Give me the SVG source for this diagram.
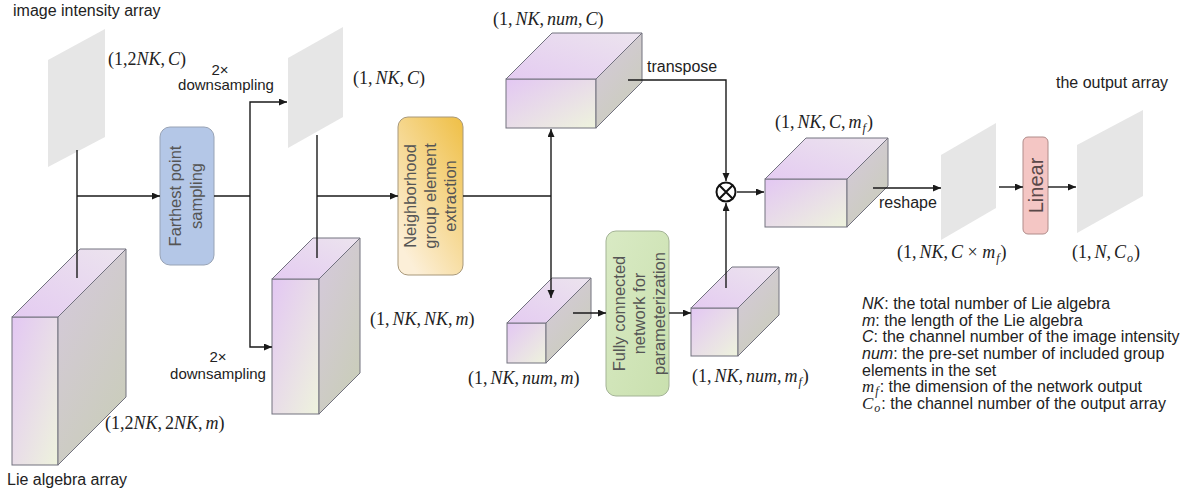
<svg xmlns="http://www.w3.org/2000/svg" width="1202" height="497" viewBox="0 0 1202 497">
<defs>
<style>
.t{font-family:"Liberation Sans",Arial,sans-serif;font-size:16px;fill:#222}
.s{font-family:"Liberation Sans",Arial,sans-serif;font-size:15px;fill:#222;text-anchor:middle}
.m{font-family:"Liberation Serif","Times New Roman",serif;font-size:18px;fill:#222}
.i{font-style:italic}
.sub{font-size:12px}
.ms{font-family:"Liberation Serif","Times New Roman",serif}
.rot{font-family:"Liberation Sans",Arial,sans-serif;font-size:16.5px;fill:#555;text-anchor:middle}
.plane{fill:#e6e6e6}
.front{fill:url(#gFront);stroke:#72727f;stroke-width:1}
.top{fill:url(#gTop);stroke:#72727f;stroke-width:1}
.right{fill:url(#gRight);stroke:#72727f;stroke-width:1}
.ln{fill:none;stroke:#1a1a1a;stroke-width:1.4}
.arr{marker-end:url(#ah)}
</style>
<linearGradient id="gFront" x1="0" y1="0" x2="1" y2="1">
<stop offset="0" stop-color="#e3c7f3"/><stop offset="1" stop-color="#eef3dd"/>
</linearGradient>
<linearGradient id="gTop" x1="0" y1="1" x2="1" y2="0">
<stop offset="0" stop-color="#e4cbf1"/><stop offset="1" stop-color="#ece4ee"/>
</linearGradient>
<linearGradient id="gRight" x1="0" y1="0" x2="0.6" y2="1">
<stop offset="0" stop-color="#d6c9de"/><stop offset="1" stop-color="#cacdbb"/>
</linearGradient>
<linearGradient id="gOrange" x1="1" y1="0" x2="0.3" y2="1">
<stop offset="0" stop-color="#efbf45"/><stop offset="1" stop-color="#fcefd8"/>
</linearGradient>
<linearGradient id="gGreen" x1="0" y1="0" x2="1" y2="1">
<stop offset="0" stop-color="#d9eac4"/><stop offset="1" stop-color="#c9e0ae"/>
</linearGradient>
<marker id="ah" markerUnits="userSpaceOnUse" markerWidth="9" markerHeight="8" refX="8" refY="3.5" orient="auto">
<path d="M0,0 L8,3.5 L0,7 z" fill="#1a1a1a"/>
</marker>
</defs>
<rect width="1202" height="497" fill="#fff"/>

<g id="image-intensity-array">
<polygon class="plane" points="48,60 105,29 105,137 48,167"/>
<text class="t" x="13" y="16">image intensity array</text>
<text class="m" x="108" y="65">(1,2<tspan class="i">NK</tspan>,<tspan class="i" dx="3">C</tspan>)</text>
</g>

<g id="lie-algebra-array">
<rect class="front" x="12" y="317" width="46" height="148"/>
<polygon class="top" points="12,317 80,249 126,249 58,317"/>
<polygon class="right" points="58,317 126,249 126,397 58,465"/>
<text class="t" x="7" y="485">Lie algebra array</text>
<text class="m" x="105" y="429">(1,2<tspan class="i">NK</tspan>,<tspan dx="3">2</tspan><tspan class="i">NK</tspan>,<tspan class="i" dx="3">m</tspan>)</text>
</g>

<g id="farthest-point-sampling">
<rect x="160" y="127" width="54" height="138" rx="10" fill="#b4c7e7" stroke="#98a3b5" stroke-width="1"/>
<text class="rot" transform="translate(187,196) rotate(-90)"><tspan x="0" y="-6">Farthest point</tspan><tspan x="0" y="15">sampling</tspan></text>
</g>

<g id="intensity-nk">
<polygon class="plane" points="288,58 343,27 343,117 288,148"/>
<text class="m" x="353" y="84">(1,<tspan class="i" dx="3">NK</tspan>,<tspan class="i" dx="3">C</tspan>)</text>
</g>

<g id="lie-nk">
<rect class="front" x="272" y="279" width="47" height="135"/>
<polygon class="top" points="272,279 313,238 360,238 319,279"/>
<polygon class="right" points="319,279 360,238 360,373 319,414"/>
<text class="m" x="370" y="325">(1,<tspan class="i" dx="3">NK</tspan>,<tspan class="i" dx="3">NK</tspan>,<tspan class="i" dx="3">m</tspan>)</text>
</g>

<g id="neighborhood-extraction">
<rect x="398" y="117" width="65" height="158" rx="10" fill="url(#gOrange)" stroke="#a8987a" stroke-width="1"/>
<text class="rot" transform="translate(430.5,196) rotate(-90)"><tspan x="0" y="-15">Neighborhood</tspan><tspan x="0" y="5">group element</tspan><tspan x="0" y="25">extraction</tspan></text>
</g>

<g id="feature-num-c">
<rect class="front" x="506" y="79" width="90" height="49"/>
<polygon class="top" points="506,79 552,33 642,33 596,79"/>
<polygon class="right" points="596,79 642,33 642,82 596,128"/>
<text class="m" x="493" y="25">(1,<tspan class="i" dx="3">NK</tspan>,<tspan class="i" dx="3">num</tspan>,<tspan class="i" dx="3">C</tspan>)</text>
</g>

<g id="lie-num-m">
<rect class="front" x="507" y="323" width="39" height="40"/>
<polygon class="top" points="507,323 552,278 591,278 546,323"/>
<polygon class="right" points="546,323 591,278 591,318 546,363"/>
<text class="m" x="468" y="384">(1,<tspan class="i" dx="3">NK</tspan>,<tspan class="i" dx="3">num</tspan>,<tspan class="i" dx="3">m</tspan>)</text>
</g>

<g id="fully-connected">
<rect x="606" y="231" width="63" height="165" rx="10" fill="url(#gGreen)" stroke="#a3b395" stroke-width="1"/>
<text class="rot" transform="translate(637.5,313.5) rotate(-90)"><tspan x="0" y="-13">Fully connected</tspan><tspan x="0" y="7">network for</tspan><tspan x="0" y="27">parameterization</tspan></text>
</g>

<g id="param-num-mf">
<rect class="front" x="691" y="308" width="47" height="48"/>
<polygon class="top" points="691,308 732,267 779,267 738,308"/>
<polygon class="right" points="738,308 779,267 779,315 738,356"/>
<text class="m" x="692" y="382">(1,<tspan class="i" dx="3">NK</tspan>,<tspan class="i" dx="3">num</tspan>,<tspan class="i" dx="3">m</tspan><tspan class="i sub" dx="1" dy="4">f</tspan><tspan dx="1" dy="-4">)</tspan></text>
</g>

<g id="product-otimes">
<circle cx="726" cy="192" r="9.5" fill="#fff" stroke="#111" stroke-width="2"/>
<path d="M719.3,185.3 L732.7,198.7 M732.7,185.3 L719.3,198.7" stroke="#111" stroke-width="2"/>
</g>

<g id="feature-c-mf">
<rect class="front" x="765" y="179" width="82" height="48"/>
<polygon class="top" points="765,179 806,138 888,138 847,179"/>
<polygon class="right" points="847,179 888,138 888,186 847,227"/>
<text class="m" x="775" y="128">(1,<tspan class="i" dx="3">NK</tspan>,<tspan class="i" dx="3">C</tspan>,<tspan class="i" dx="3">m</tspan><tspan class="i sub" dx="1" dy="4">f</tspan><tspan dx="1" dy="-4">)</tspan></text>
</g>

<g id="reshaped">
<polygon class="plane" points="941,155 996,123 996,208 941,240"/>
<text class="m" x="897" y="258">(1,<tspan class="i" dx="3">NK</tspan>,<tspan class="i" dx="3">C</tspan> × <tspan class="i">m</tspan><tspan class="i sub" dx="1" dy="4">f</tspan><tspan dx="1" dy="-4">)</tspan></text>
</g>

<g id="linear">
<rect x="1023" y="137" width="25" height="97" rx="5" fill="#f4c6c4" stroke="#b08c8a" stroke-width="1"/>
<text class="rot" style="font-size:20px;fill:#5a4848" transform="translate(1035.5,185.5) rotate(-90)" x="0" y="7.5">Linear</text>
</g>

<g id="output-array">
<polygon class="plane" points="1077,145 1143,110 1143,196 1077,233"/>
<text class="t" x="1056" y="88">the output array</text>
<text class="m" x="1072" y="258">(1,<tspan class="i" dx="3">N</tspan>,<tspan class="i" dx="3">C</tspan><tspan class="i sub" dx="1" dy="4">o</tspan><tspan dx="1" dy="-4">)</tspan></text>
</g>

<g id="connectors">
<path class="ln" d="M77,150 V278"/>
<path class="ln arr" d="M77,196 H160"/>
<path class="ln" d="M214,196 H250"/>
<path class="ln arr" d="M250,196 V102 H287"/>
<path class="ln arr" d="M250,196 V347 H272"/>
<path class="ln" d="M317,135 V258"/>
<path class="ln arr" d="M317,196 H398"/>
<path class="ln" d="M463,196 H551"/>
<path class="ln arr" d="M551,196 V129"/>
<path class="ln arr" d="M551,196 V298"/>
<path class="ln arr" d="M628,80 H726 V181"/>
<path class="ln arr" d="M573,313 H606"/>
<path class="ln arr" d="M669,313 H691"/>
<path class="ln arr" d="M726,288 V203"/>
<path class="ln arr" d="M737,192 H764"/>
<path class="ln arr" d="M873,188 H941"/>
<path class="ln arr" d="M999,187 H1023"/>
<path class="ln arr" d="M1048,187 H1076"/>
<text class="s" x="220" y="75">2×</text>
<text class="s" x="226" y="90">downsampling</text>
<text class="s" x="218" y="362">2×</text>
<text class="s" x="218" y="379">downsampling</text>
<text class="t" x="647" y="72">transpose</text>
<text class="t" x="879" y="208">reshape</text>
</g>

<g id="legend">
<text class="t" x="862" y="309"><tspan class="i">NK</tspan>: the total number of Lie algebra</text>
<text class="t" x="862" y="325.7"><tspan class="i">m</tspan>: the length of the Lie algebra</text>
<text class="t" x="862" y="342.3"><tspan class="i">C</tspan>: the channel number of the image intensity</text>
<text class="t" x="862" y="359"><tspan class="i">num</tspan>: the pre-set number of included group</text>
<text class="t" x="862" y="375.7">elements in the set</text>
<text class="t" x="862" y="392.3"><tspan class="i ms" style="font-size:17px">m</tspan><tspan class="i sub ms" dx="1" dy="3">f</tspan><tspan dx="1" dy="-3">: the dimension of the network output</tspan></text>
<text class="t" x="862" y="409"><tspan class="i ms" style="font-size:17px">C</tspan><tspan class="i sub ms" dx="1" dy="3">o</tspan><tspan dx="1" dy="-3">: the channel number of the output array</tspan></text>
</g>
</svg>
